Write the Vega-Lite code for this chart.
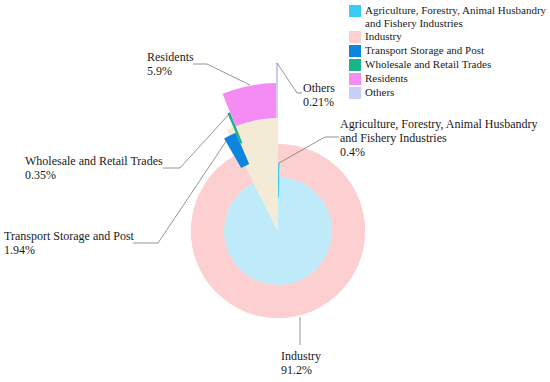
{
  "$schema": "https://vega.github.io/schema/vega-lite/v6.json",
  "width": 544,
  "height": 302,
  "autosize": {"type": "none"},
  "padding": {"left": 6, "top": 80, "right": 0, "bottom": 0},
  "background": "white",
  "config": {"view": {"stroke": null}, "font": "'Liberation Serif', 'Times New Roman', serif"},
  "datasets": {
    "ring": [{"ring": "Industry", "r0": 54, "r1": 87}],
    "inner": [
      {"part": "Industry core", "share": 92.5, "order": 1, "r0": 0, "r1": 54},
      {"part": "Services", "share": 7.5, "order": 2, "r0": 0, "r1": 113}
    ],
    "sectors": [
      {"sector": "Agriculture, Forestry, Animal Husbandry and Fishery Industries", "share": 0.4, "order": 1, "r0": 34, "r1": 68},
      {"sector": "Industry", "share": 91.2, "order": 2, "r0": 54, "r1": 87},
      {"sector": "Transport Storage and Post", "share": 1.94, "order": 3, "r0": 73, "r1": 107},
      {"sector": "Wholesale and Retail Trades", "share": 0.35, "order": 4, "r0": 95, "r1": 128},
      {"sector": "Residents", "share": 5.9, "order": 5, "r0": 113, "r1": 148},
      {"sector": "Others", "share": 0.21, "order": 6, "r0": 113, "r1": 168}
    ],
    "leaders": [
      {"label": "Residents", "seq": 1, "lx": -85, "ly": 167},
      {"label": "Residents", "seq": 2, "lx": -71, "ly": 167},
      {"label": "Residents", "seq": 3, "lx": -28, "ly": 146},
      {"label": "Others", "seq": 1, "lx": 24, "ly": 138},
      {"label": "Others", "seq": 2, "lx": 19, "ly": 138},
      {"label": "Others", "seq": 3, "lx": -1, "ly": 168},
      {"label": "Agriculture", "seq": 1, "lx": 61, "ly": 94},
      {"label": "Agriculture", "seq": 2, "lx": 47, "ly": 94},
      {"label": "Agriculture", "seq": 3, "lx": 1, "ly": 68},
      {"label": "Wholesale", "seq": 1, "lx": -115, "ly": 63},
      {"label": "Wholesale", "seq": 2, "lx": -98, "ly": 63},
      {"label": "Wholesale", "seq": 3, "lx": -48, "ly": 118},
      {"label": "Transport", "seq": 1, "lx": -145, "ly": -12},
      {"label": "Transport", "seq": 2, "lx": -120, "ly": -12},
      {"label": "Transport", "seq": 3, "lx": -51, "ly": 91},
      {"label": "Industry", "seq": 1, "lx": 22, "ly": -114},
      {"label": "Industry", "seq": 2, "lx": 22, "ly": -86}
    ],
    "labels": [
      {"text": "Residents\n5.9%", "tx": -131, "ty": 170},
      {"text": "Others\n0.21%", "tx": 25, "ty": 139},
      {"text": "Agriculture, Forestry, Animal Husbandry\nand Fishery Industries\n0.4%", "tx": 62, "ty": 103},
      {"text": "Wholesale and Retail Trades\n0.35%", "tx": -253, "ty": 66},
      {"text": "Transport Storage and Post\n1.94%", "tx": -274, "ty": -9},
      {"text": "Industry\n91.2%", "tx": 3, "ty": -129}
    ]
  },
  "layer": [
    {
      "data": {"name": "ring"},
      "mark": {"type": "arc", "color": "#fcd0d0"},
      "encoding": {
        "radius": {"field": "r1", "type": "quantitative", "scale": {"type": "linear", "zero": true, "domain": [0, 200], "range": [0, 200]}},
        "radius2": {"field": "r0"}
      }
    },
    {
      "data": {"name": "inner"},
      "transform": [{"stack": "share", "groupby": [], "sort": [{"field": "order", "order": "ascending"}], "as": ["t0", "t1"]}],
      "mark": {"type": "arc"},
      "encoding": {
        "theta": {"field": "t0", "type": "quantitative", "stack": null, "scale": {"domain": [0, 100]}},
        "theta2": {"field": "t1"},
        "radius": {"field": "r1", "type": "quantitative", "scale": {"type": "linear", "zero": true, "domain": [0, 200], "range": [0, 200]}},
        "radius2": {"field": "r0"},
        "color": {"field": "part", "type": "nominal", "scale": {"domain": ["Industry core", "Services"], "range": ["#bfeafa", "#f4ebd7"]}, "legend": null}
      }
    },
    {
      "data": {"name": "sectors"},
      "transform": [{"stack": "share", "groupby": [], "sort": [{"field": "order", "order": "ascending"}], "as": ["t0", "t1"]}],
      "mark": {"type": "arc"},
      "encoding": {
        "theta": {"field": "t0", "type": "quantitative", "stack": null, "scale": {"domain": [0, 100]}},
        "theta2": {"field": "t1"},
        "radius": {"field": "r1", "type": "quantitative", "scale": {"type": "linear", "zero": true, "domain": [0, 200], "range": [0, 200]}},
        "radius2": {"field": "r0"},
        "color": {
          "field": "sector",
          "type": "nominal",
          "scale": {
            "domain": ["Agriculture, Forestry, Animal Husbandry and Fishery Industries", "Industry", "Transport Storage and Post", "Wholesale and Retail Trades", "Residents", "Others"],
            "range": ["#3ccbf6", "#fcd0d0", "#0b85e0", "#1bb487", "#f58cf4", "#c9cdf7"]
          },
          "legend": {
            "orient": "none",
            "legendX": 343,
            "legendY": -75,
            "padding": 0,
            "title": null,
            "symbolType": "square",
            "symbolSize": 144,
            "symbolStrokeWidth": 0,
            "labelFont": "'Liberation Serif', 'Times New Roman', serif",
            "labelFontSize": 11,
            "labelColor": "#1a1a1a",
            "labelLimit": 300,
            "labelOffset": 4,
            "rowPadding": 2,
            "labelExpr": "datum.label == 'Agriculture, Forestry, Animal Husbandry and Fishery Industries' ? ['Agriculture, Forestry, Animal Husbandry', 'and Fishery Industries'] : datum.label"
          }
        }
      }
    },
    {
      "data": {"name": "leaders"},
      "mark": {"type": "line", "color": "#7a7a7a", "strokeWidth": 0.8},
      "encoding": {
        "x": {"field": "lx", "type": "quantitative", "scale": {"domain": [-272, 272], "nice": false, "zero": false}, "axis": null},
        "y": {"field": "ly", "type": "quantitative", "scale": {"domain": [-151, 151], "nice": false, "zero": false}, "axis": null},
        "detail": {"field": "label"},
        "order": {"field": "seq", "type": "quantitative"}
      }
    },
    {
      "data": {"name": "labels"},
      "mark": {"type": "text", "align": "left", "baseline": "alphabetic", "lineBreak": "\n", "lineHeight": 14, "fontSize": 12, "font": "'Liberation Serif', 'Times New Roman', serif", "color": "#1a1a1a"},
      "encoding": {
        "x": {"field": "tx", "type": "quantitative", "scale": {"domain": [-272, 272], "nice": false, "zero": false}, "axis": null},
        "y": {"field": "ty", "type": "quantitative", "scale": {"domain": [-151, 151], "nice": false, "zero": false}, "axis": null},
        "text": {"field": "text"}
      }
    }
  ],
  "resolve": {"scale": {"color": "independent"}}
}
